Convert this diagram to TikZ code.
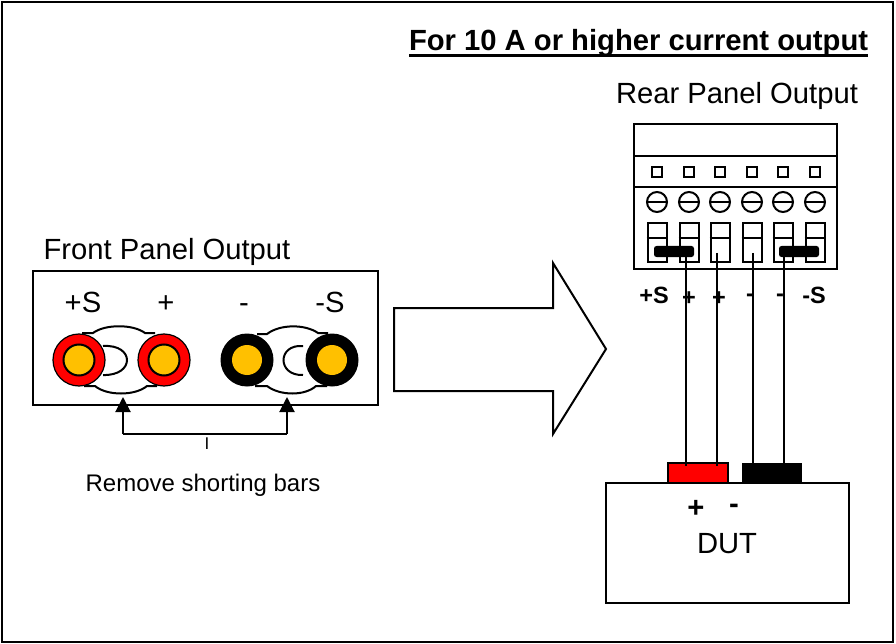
\documentclass[tikz,border=0pt]{standalone}
\usepackage{fontspec}
\setmainfont{Liberation Sans}
\usetikzlibrary{arrows.meta}
\definecolor{termred}{HTML}{FF0000}
\definecolor{termgold}{HTML}{FFC000}
\newcommand{\fsz}[1]{\fontsize{#1}{#1}\selectfont}
\tikzset{
  line/.style={draw=black,line width=2.5pt},
  thinline/.style={draw=black,line width=2pt},
  lbl/.style={inner sep=0pt,outer sep=0pt,text=black,anchor=base},
  biglbl/.style={lbl,font=\fsz{29.2}},
  pinlbl/.style={lbl,font=\fsz{23.5}\bfseries},
  termred/.style={circle,draw=black,line width=1.2pt,fill=termred,minimum size=52pt,inner sep=0pt},
  termblack/.style={circle,fill=black,minimum size=53pt,inner sep=0pt},
  coreR/.style={circle,draw=black,line width=2pt,fill=termgold,minimum size=31pt,inner sep=0pt},
  coreB/.style={circle,fill=termgold,minimum size=30pt,inner sep=0pt},
  pinsq/.style={rectangle,draw=black,line width=2pt,minimum size=10pt,inner sep=0pt},
  screw/.style={circle,draw=black,line width=2pt,minimum size=20pt,inner sep=0pt},
  slot/.style={rectangle,draw=black,line width=2pt,minimum width=19pt,minimum height=39pt,inner sep=0pt},
  jumper/.style={rectangle,rounded corners=2.5pt,fill=black,minimum width=40pt,minimum height=11pt,inner sep=0pt},
  wire/.style={draw=black,line width=2pt},
  tip/.style={-{Triangle[length=15pt,width=15pt]}}
}
\begin{document}
\begin{tikzpicture}[x=1pt,y=-1pt]
\useasboundingbox (0,0) rectangle (896,644);
\draw[line] (2,2) rectangle (893,642);
% Title
\node[lbl,font=\fsz{29.2}\bfseries,anchor=base west] (title) at (409,50.7) {For 10 A or higher current output};
\draw[line,line width=2.8pt] (title.base west |- 0,55.7) -- (title.base east |- 0,55.7);
\node[biglbl] (rearlbl) at (737,104) {Rear Panel Output};
\node[biglbl] (frontlbl) at (167,259) {Front Panel Output};
% Front panel
\draw[line] (33,271) rectangle (378,405);
\node[biglbl] (ps) at (83,312.5) {+S};
\node[biglbl] (p) at (166,312.5) {+};
\node[biglbl] (m) at (244,312.5) {-};
\node[biglbl] (ms) at (330,312.5) {-S};
% shorting bars
\draw[thinline] (82,333) -- (93,333) .. controls (105,324) and (133,324) .. (145,333) -- (155,333);
\draw[thinline] (84,386) -- (95,386) .. controls (107,396) and (135,396) .. (147,386) -- (157,386);
\draw[thinline] (103,346) .. controls (135,344) and (135,376) .. (103,375);
\draw[thinline] (257,334) -- (267,334) .. controls (280,324) and (305,324) .. (318,333) -- (328,333);
\draw[thinline] (255,386) -- (267,386) .. controls (280,396) and (305,396) .. (316,386) -- (327,386);
\draw[thinline] (303,346) .. controls (277,344) and (277,376) .. (303,375);
% terminals
\node[termred] (t1) at (79,360) {};
\node[coreR] (c1) at (79,360) {};
\node[termred] (t2) at (164,360) {};
\node[coreR] (c2) at (164,360) {};
\node[termblack] (t3) at (247,360) {};
\node[coreB] (c3) at (247,360) {};
\node[termblack] (t4) at (332,360) {};
\node[coreB] (c4) at (332,360) {};
% Arrows to shorting bars
\coordinate (barA) at (123,397);
\coordinate (barB) at (287,397);
\coordinate (bendA) at (123,434);
\coordinate (bendB) at (287,434);
\draw[thinline,tip] (bendA) -- (barA);
\draw[thinline,tip] (bendB) -- (barB);
\draw[thinline] (bendA) -- (bendB);
\node[lbl,font=\fsz{17}] (tick) at (207,449) {I};
\node[lbl,font=\fsz{24}] (remove) at (203,491.5) {Remove shorting bars};
% Big arrow
\draw[thinline,fill=white] (394,308) -- (553,308) -- (553,263) -- (606,349) -- (553,434) -- (553,391) -- (394,391) -- cycle;
% Rear panel
\draw[line] (634,124) rectangle (837,269);
\draw[line] (634,156) -- (837,156);
\draw[line] (634,187) -- (837,187);
\foreach \n/\x in {1/657,2/689,3/720,4/752,5/783,6/815}{
  \node[pinsq] (sq\n) at (\x,172) {};
  \node[screw] (sc\n) at (\x,202) {};
  \draw[thinline] (sc\n.west) -- (sc\n.east);
  \node[slot] (sl\n) at (\x,242.5) {};
  \draw[thinline] (sl\n.west |- 0,238) -- (sl\n.east |- 0,238);
}
\node[jumper] (j1) at (674,251.5) {};
\node[jumper] (j2) at (799,251.5) {};
% DUT
\node[rectangle,fill=termred,draw=black,line width=1.2pt,minimum width=60pt,minimum height=20pt,inner sep=0pt] (red) at (698,473) {};
\node[rectangle,fill=black,minimum width=60pt,minimum height=21pt,inner sep=0pt] (blk) at (772,473) {};
\draw[line] (606,483) rectangle (849,603);
% wires
\coordinate (w1a) at (686,257);
\coordinate (w1b) at (686,466);
\coordinate (w2a) at (717,253);
\coordinate (w2b) at (717,466);
\coordinate (w3a) at (753,253);
\coordinate (w3b) at (753,466);
\coordinate (w4a) at (784,257);
\coordinate (w4b) at (784,466);
\draw[wire] (w1a) -- (w1b);
\draw[wire] (w2a) -- (w2b);
\draw[wire] (w3a) -- (w3b);
\draw[wire] (w4a) -- (w4b);
% pin labels
\node[pinlbl] (l1) at (654,303.5) {+S};
\node[pinlbl] (l2) at (689,305) {+};
\node[pinlbl] (l3) at (719,305) {+};
\node[pinlbl] (l4) at (750,301) {-};
\node[pinlbl] (l5) at (780,301) {-};
\node[pinlbl] (l6) at (814,303.5) {-S};
\node[lbl,font=\fsz{29.2}\bfseries] (dp) at (696,517) {+};
\node[lbl,font=\fsz{29.2}\bfseries] (dm) at (734,513) {-};
\node[biglbl] (dut) at (727,553.5) {DUT};
\end{tikzpicture}
\end{document}
